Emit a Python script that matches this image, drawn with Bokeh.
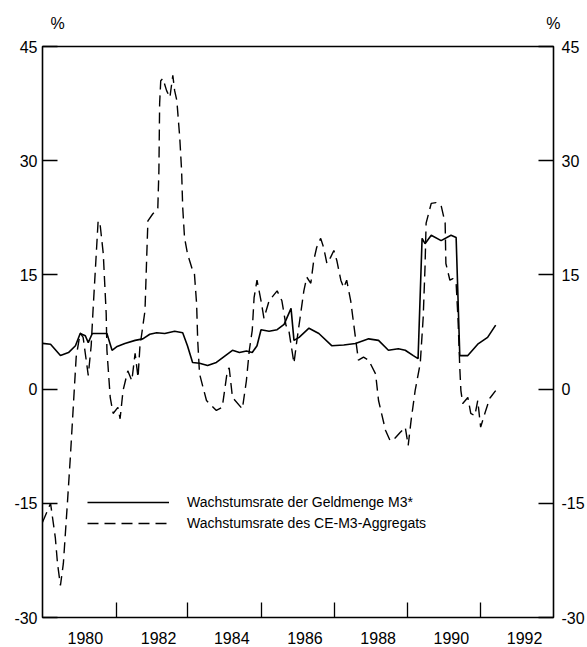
from bokeh.plotting import figure
from bokeh.models import Range1d, LinearAxis, FixedTicker, Legend, LegendItem
from bokeh.embed import file_html
from bokeh.resources import INLINE

# Wachstumsrate der Geldmenge M3* (solid)
m3_years = [1978.83, 1979.05, 1979.32, 1979.54, 1979.73, 1979.86, 1980.00, 1980.08, 1980.19,
            1980.40, 1980.59, 1980.73, 1980.87, 1981.08, 1981.36, 1981.57, 1981.76, 1981.95,
            1982.17, 1982.44, 1982.66, 1982.79, 1982.93, 1983.12, 1983.34, 1983.58, 1983.80,
            1984.02, 1984.21, 1984.40, 1984.56, 1984.69, 1984.80, 1985.02, 1985.24, 1985.43,
            1985.62, 1985.70, 1985.84, 1986.11, 1986.38, 1986.73, 1987.06, 1987.38, 1987.74,
            1988.01, 1988.28, 1988.55, 1988.74, 1988.96, 1989.09, 1989.20, 1989.28, 1989.45,
            1989.72, 1989.99, 1990.13, 1990.23, 1990.45, 1990.72, 1990.99, 1991.21]
m3_values = [6.0, 5.9, 4.4, 4.8, 5.7, 7.3, 7.0, 6.1, 7.3,
             7.3, 7.3, 5.1, 5.6, 6.0, 6.4, 6.6, 7.2, 7.4,
             7.3, 7.6, 7.4, 5.7, 3.5, 3.4, 3.1, 3.5, 4.3,
             5.1, 4.8, 5.0, 4.8, 5.7, 7.8, 7.6, 7.8, 8.5,
             10.6, 6.4, 6.8, 8.0, 7.3, 5.7, 5.8, 6.0, 6.6,
             6.4, 5.1, 5.3, 5.1, 4.4, 4.0, 19.8, 19.1, 20.2,
             19.5, 20.2, 19.9, 4.4, 4.4, 5.9, 6.8, 8.4]

# Wachstumsrate des CE-M3-Aggregats (dashed)
ce_years = [1978.83, 1979.05, 1979.18, 1979.24, 1979.32, 1979.40, 1979.51, 1979.59, 1979.67,
            1979.75, 1979.86, 1979.94, 1980.08, 1980.16, 1980.21, 1980.35, 1980.40, 1980.49,
            1980.57, 1980.59, 1980.68, 1980.76, 1980.89, 1980.95, 1981.03, 1981.16, 1981.27,
            1981.36, 1981.44, 1981.49, 1981.63, 1981.68, 1981.71, 1981.84, 1981.98, 1982.01,
            1982.03, 1982.06, 1982.12, 1982.22, 1982.31, 1982.39, 1982.44, 1982.50, 1982.58,
            1982.63, 1982.66, 1982.71, 1982.79, 1982.93, 1982.98, 1983.04, 1983.07, 1983.12,
            1983.31, 1983.58, 1983.74, 1983.88, 1983.93, 1984.02, 1984.29, 1984.40, 1984.48,
            1984.56, 1984.61, 1984.69, 1984.80, 1984.88, 1985.02, 1985.24, 1985.37, 1985.48,
            1985.56, 1985.70, 1985.78, 1985.97, 1986.05, 1986.16, 1986.24, 1986.32, 1986.43,
            1986.51, 1986.60, 1986.70, 1986.79, 1986.87, 1986.98, 1987.06, 1987.14, 1987.25,
            1987.33, 1987.46, 1987.60, 1987.74, 1987.93, 1988.01, 1988.20, 1988.33, 1988.47,
            1988.60, 1988.74, 1988.82, 1988.90, 1989.01, 1989.15, 1989.23, 1989.28, 1989.31,
            1989.45, 1989.58, 1989.72, 1989.83, 1989.85, 1989.96, 1990.04, 1990.13, 1990.18,
            1990.23, 1990.26, 1990.31, 1990.45, 1990.53, 1990.64, 1990.72, 1990.80, 1990.94,
            1991.05, 1991.21]
ce_values = [-17.5, -15.0, -19.5, -22.9, -25.8, -22.9, -15.0, -9.0, -2.4,
             4.2, 7.4, 6.8, 1.8, 5.7, 10.3, 22.1, 21.8, 17.8,
             9.9, 5.1, -1.1, -3.2, -2.4, -3.9, -0.2, 2.4, 1.1,
             4.7, 1.5, 5.5, 10.3, 17.8, 22.1, 23.0, 23.7, 28.7,
             37.5, 40.5, 40.8, 39.2, 38.3, 41.2, 39.2, 37.9, 33.0,
             28.7, 23.9, 19.9, 17.8, 15.6, 15.2, 11.2, 6.4, 2.0,
             -1.5, -2.8, -2.4, 2.4, 2.8, -1.1, -2.6, 1.1, 5.1,
             7.7, 12.0, 14.3, 11.6, 9.3, 11.6, 12.9, 11.6, 8.4,
             7.7, 3.4, 6.4, 12.9, 14.7, 13.9, 16.9, 18.6, 19.8,
             18.6, 16.5, 17.3, 18.2, 16.9, 14.3, 13.3, 14.3, 11.6,
             8.6, 3.8, 4.2, 3.8, 2.0, -1.5, -5.4, -6.8, -6.4,
             -5.7, -5.0, -7.4, -4.1, -0.2, 3.4, 9.4, 16.0, 21.8,
             24.4, 24.5, 24.1, 21.8, 16.5, 14.3, 14.5, 13.9, 9.4,
             2.8, -0.2, -1.9, -1.1, -3.2, -3.5, -1.5, -5.0, -2.8,
             -1.2, -0.2]

year_labels = [1980, 1982, 1984, 1986, 1988, 1990, 1992]
year_marks = [1980.85, 1982.8, 1984.8, 1986.8, 1988.8, 1990.8]
y_ticks = [-30, -15, 0, 15, 30, 45]
series_names = ["Wachstumsrate der Geldmenge M3*", "Wachstumsrate des CE-M3-Aggregats"]
unit_text = "%"
unit_marks = [1979.24, 1992.785]   # where the "%" unit captions sit above the frame

FONT = "Liberation Sans"

p = figure(width=587, height=647,
           x_range=Range1d(1978.83, 1992.79), y_range=Range1d(-30, 45),
           output_backend="svg", toolbar_location=None,
           min_border_left=42, min_border_right=32, min_border_top=46, min_border_bottom=30)

p.xgrid.grid_line_color = None
p.ygrid.grid_line_color = None
p.background_fill_color = "white"
p.border_fill_color = "white"
p.outline_line_color = "black"
p.outline_line_width = 1.6
p.outline_line_alpha = 1.0

right_axis = LinearAxis()
p.add_layout(right_axis, "right")

for ax, standoff in [(p.yaxis[0], 5), (right_axis, 8)]:
    ax.ticker = FixedTicker(ticks=y_ticks)
    ax.major_label_overrides = {t: str(t) for t in y_ticks}
    ax.axis_line_color = None
    ax.major_tick_in = 15
    ax.major_tick_out = 0
    ax.major_tick_line_color = "black"
    ax.major_tick_line_width = 1.3
    ax.minor_tick_line_color = None
    ax.major_label_standoff = standoff
    ax.major_label_text_font = FONT
    ax.major_label_text_font_size = "16px"
    ax.major_label_text_color = "black"

xa = p.xaxis[0]
xa.ticker = FixedTicker(ticks=year_labels, minor_ticks=year_marks)
xa.axis_line_color = None
xa.major_tick_in = 0
xa.major_tick_out = 0
xa.minor_tick_in = 15
xa.minor_tick_out = 0
xa.minor_tick_line_color = "black"
xa.minor_tick_line_width = 1.3
xa.major_label_standoff = 14
xa.major_label_text_font = FONT
xa.major_label_text_font_size = "16px"
xa.major_label_text_color = "black"

# "%" unit captions above both vertical axes
top_axis = LinearAxis(ticker=FixedTicker(ticks=unit_marks),
                      major_label_overrides={t: unit_text for t in unit_marks})
top_axis.axis_line_color = None
top_axis.major_tick_in = 0
top_axis.major_tick_out = 0
top_axis.minor_tick_line_color = None
top_axis.major_label_standoff = 15
top_axis.major_label_text_font = FONT
top_axis.major_label_text_font_size = "16px"
top_axis.major_label_text_color = "black"
p.add_layout(top_axis, "above")

r1 = p.line(m3_years, m3_values, line_color="black", line_width=1.6)
r2 = p.line(ce_years, ce_values, line_color="black", line_width=1.4, line_dash="11 6")

legend = Legend(items=[LegendItem(label=series_names[0], renderers=[r1]),
                       LegendItem(label=series_names[1], renderers=[r2])],
                location=(45, 86), glyph_width=82, glyph_height=16, label_height=16,
                label_standoff=18, spacing=5, padding=0, margin=0,
                border_line_color=None, background_fill_alpha=0,
                label_text_font=FONT, label_text_font_size="14px", label_text_color="black")
p.add_layout(legend)

open("out.html", "w").write(file_html(p, INLINE))
